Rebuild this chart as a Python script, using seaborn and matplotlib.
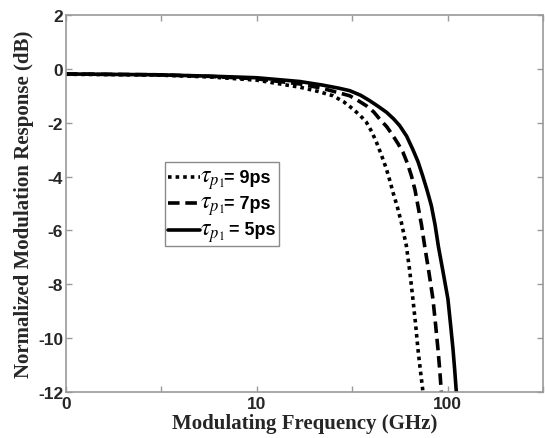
import numpy as np
import pandas as pd
import matplotlib
matplotlib.use("Agg")
import matplotlib.pyplot as plt
import matplotlib.ticker as mticker
from matplotlib.offsetbox import DrawingArea, TextArea, HPacker, VPacker, AnchoredOffsetbox
from matplotlib.lines import Line2D
import seaborn as sns

# ---- data (frequency in GHz, response in dB) ----
f_9ps = [1.0, 3.0, 5.67, 10.0, 16.8, 21.0, 25.1, 28.5, 31.9, 35.0, 37.5, 40.0, 42.4, 45.0,
         47.8, 49.8, 51.7, 54.5, 57.3, 60.8, 63.3, 65.8, 68.0, 69.9, 72.0, 74.3]
r_9ps = [-0.20, -0.23, -0.30, -0.42, -0.68, -0.84, -1.00, -1.22, -1.49, -1.75, -1.98, -2.33, -2.73, -3.20,
         -3.72, -4.15, -4.58, -5.12, -5.72, -6.57, -7.50, -8.55, -9.50, -10.40, -11.20, -12.0]

f_7ps = [1.0, 3.0, 5.67, 10.0, 16.8, 22.0, 26.0, 30.7, 34.0, 37.5, 41.0, 44.0, 48.0, 51.7,
         55.0, 58.3, 61.5, 64.6, 67.5, 69.9, 73.0, 75.8, 80.0, 83.8, 86.5, 89.0, 91.0, 92.7]
r_7ps = [-0.19, -0.22, -0.28, -0.37, -0.56, -0.72, -0.86, -1.00, -1.18, -1.37, -1.60, -1.86, -2.15, -2.48,
         -2.78, -3.09, -3.50, -3.97, -4.50, -5.08, -5.80, -6.57, -7.60, -8.55, -9.50, -10.40, -11.20, -12.0]

f_5ps = [1.0, 3.0, 5.67, 10.0, 16.8, 22.0, 27.0, 30.7, 35.0, 39.0, 43.0, 47.8, 52.0, 56.1,
         61.0, 65.6, 70.0, 74.0, 78.0, 82.2, 86.0, 89.5, 95.0, 100.4, 104.0, 106.7, 109.0, 111.1]
r_5ps = [-0.19, -0.22, -0.27, -0.33, -0.47, -0.60, -0.72, -0.81, -0.98, -1.18, -1.38, -1.61, -1.85, -2.11,
         -2.50, -2.98, -3.45, -3.97, -4.50, -5.08, -5.80, -6.60, -7.60, -8.55, -9.60, -10.40, -11.20, -12.0]

legend_values = ["= 9ps", "= 7ps", " = 5ps"]
legend_symbol = r"$\tau_{p_1}$"

x_ticks = [1, 10**0.5, 10, 10**1.5, 100, 10**2.5]
x_ticklabels = ["0", "", "10", "", "100", ""]
y_ticks = [2, 0, -2, -4, -6, -8, -10, -12]

sns.set_style("white")
plt.rcParams["font.family"] = ["Liberation Sans", "DejaVu Sans"]
plt.rcParams["mathtext.fontset"] = "stix"
plt.rcParams["axes.unicode_minus"] = False

fig = plt.figure(figsize=(5.45, 4.39), dpi=100)
ax = fig.add_axes([66 / 545, 1 - 393 / 439, 477 / 545, 377 / 439])

styles = [(0, (1, 1.1)), (0, (3.2, 1.6)), "-"]
datasets = [(f_9ps, r_9ps), (f_7ps, r_7ps), (f_5ps, r_5ps)]
for (fx, ry), ls in zip(datasets, styles):
    df = pd.DataFrame({"f": fx, "r": ry})
    sns.lineplot(data=df, x="f", y="r", ax=ax, color="black", linestyle=ls,
                 linewidth=2.6, sort=False, estimator=None, legend=False)

ax.set_xscale("log")
ax.set_xlim(1, 10**2.5)
ax.set_ylim(-12, 2)
ax.xaxis.set_major_locator(mticker.FixedLocator(x_ticks))
ax.xaxis.set_major_formatter(mticker.FixedFormatter(x_ticklabels))
ax.xaxis.set_minor_locator(mticker.NullLocator())
ax.set_yticks(y_ticks)
ax.set_yticklabels([str(v) for v in y_ticks])

for lab in ax.get_xticklabels() + ax.get_yticklabels():
    lab.set_fontweight("bold")
    lab.set_fontsize(12.5)

ax.tick_params(direction="in", length=4, width=1, color="#9a9a9a",
               top=True, right=True, bottom=True, left=True, pad=3)
ax.tick_params(axis="y", pad=2)
for sp in ax.spines.values():
    sp.set_color("#9a9a9a")
    sp.set_linewidth(1.2)

ax.set_xlabel("Modulating Frequency (GHz)", family="Liberation Serif",
              fontweight="bold", fontsize=15, labelpad=1)
ax.set_ylabel("Normalized Modulation Response (dB)", family="Liberation Serif",
              fontweight="bold", fontsize=15, labelpad=3)

# legend built from line samples + mixed-size text
rows = []
for ls, val in zip(styles, legend_values):
    da = DrawingArea(23, 10, 0, 0)
    da.add_artist(Line2D([0, 23], [3.5, 3.5], color="black", linestyle=ls, linewidth=2.6))
    t1 = TextArea(legend_symbol, textprops=dict(size=17, color="black"))
    t2 = TextArea(val, textprops=dict(size=13, weight="bold", color="black"))
    rows.append(HPacker(children=[da, t1, t2], align="baseline", pad=0, sep=0))
box = VPacker(children=rows, align="left", pad=0, sep=0)
anch = AnchoredOffsetbox(loc="upper left", child=box, bbox_to_anchor=(0.2075, 0.61),
                         bbox_transform=ax.transAxes, borderpad=0, frameon=True, pad=0.2)
anch.patch.set_edgecolor("#8a8a8a")
anch.patch.set_linewidth(1.0)
anch.patch.set_boxstyle("square", pad=0)
ax.add_artist(anch)

fig.savefig("out.png", dpi=100)
